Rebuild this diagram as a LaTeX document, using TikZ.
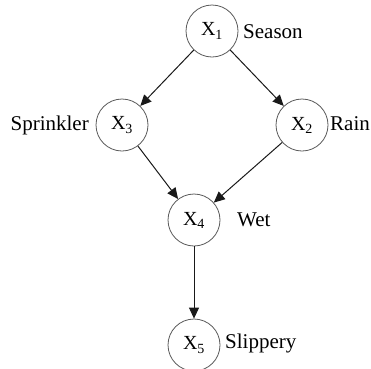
\documentclass[tikz,border=0pt]{standalone}
\usepackage{fontspec}
\setmainfont{Liberation Serif}
\usetikzlibrary{arrows.meta}
\begin{document}
\begin{tikzpicture}[x=1pt,y=1pt,
  var/.style={circle,draw=black!65,line width=0.8pt,minimum size=52pt,inner sep=0pt,font=\fontsize{20}{22}\selectfont},
  lab/.style={inner sep=0pt,font=\fontsize{21}{23}\selectfont},
  edge/.style={draw=black!90,line width=1pt,-{Triangle[length=11pt,width=10pt]}}]
\useasboundingbox (0,0) rectangle (371,-368);
\node[var] (x1) at (212,-31) {X\textsubscript{1}};
\node[var] (x3) at (122,-125) {X\textsubscript{3}};
\node[var] (x2) at (302,-125) {X\textsubscript{2}};
\node[var] (x4) at (194,-220) {X\textsubscript{4}};
\node[var] (x5) at (194,-345) {X\textsubscript{5}};
\node[lab,anchor=west] (l1) at (243,-32) {Season};
\node[lab,anchor=east] (l3) at (89,-125) {Sprinkler};
\node[lab,anchor=west] (l2) at (330,-124) {Rain};
\node[lab,anchor=west] (l4) at (237,-220) {Wet};
\node[lab,anchor=west] (l5) at (225,-343) {Slippery};
\draw[edge] (x1) -- (x3);
\draw[edge] (x1) -- (x2);
\draw[edge] (x3) -- (x4);
\draw[edge] (x2) -- (x4);
\draw[edge] (x4) -- (x5);
\end{tikzpicture}
\end{document}
